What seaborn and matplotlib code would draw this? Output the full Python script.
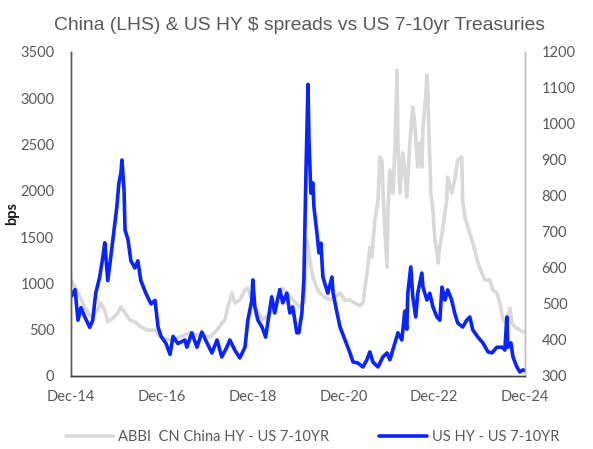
import matplotlib
matplotlib.use("Agg")
import matplotlib.pyplot as plt
import matplotlib.dates as mdates
import pandas as pd
import seaborn as sns

# China HY spread over US 7-10yr Treasuries (left axis, bps)
china_dates = [
    "2014-12-01", "2015-01-03", "2015-02-11", "2015-03-21", "2015-05-09", "2015-07-04",
    "2015-07-28", "2015-08-30", "2015-09-23", "2015-11-03", "2015-12-13", "2016-01-07",
    "2016-02-09", "2016-03-19", "2016-04-28", "2016-06-15", "2016-08-11", "2016-10-07",
    "2016-11-17", "2016-12-26", "2017-02-13", "2017-04-25", "2017-07-14", "2017-10-04",
    "2017-12-23", "2018-02-18", "2018-03-28", "2018-04-22", "2018-05-16", "2018-06-18",
    "2018-07-11", "2018-08-20", "2018-10-01", "2018-10-24", "2018-11-25", "2019-01-05",
    "2019-02-23", "2019-04-18", "2019-06-14", "2019-07-24", "2019-09-03", "2019-10-20",
    "2019-12-16", "2020-01-18", "2020-02-04", "2020-02-12", "2020-03-06", "2020-03-30",
    "2020-05-02", "2020-05-26", "2020-07-05", "2020-08-14", "2020-09-24", "2020-11-04",
    "2020-12-14", "2021-01-23", "2021-03-03", "2021-04-12", "2021-05-07", "2021-06-08",
    "2021-07-02", "2021-07-18", "2021-08-11", "2021-09-05", "2021-09-21", "2021-10-07",
    "2021-10-15", "2021-11-01", "2021-11-17", "2021-11-25", "2021-12-10", "2022-01-04",
    "2022-01-20", "2022-02-05", "2022-02-13", "2022-03-01", "2022-03-24", "2022-04-09",
    "2022-04-25", "2022-05-19", "2022-06-12", "2022-06-28", "2022-07-22", "2022-08-08",
    "2022-08-24", "2022-09-02", "2022-09-26", "2022-10-04", "2022-10-12", "2022-10-20",
    "2022-11-05", "2022-11-21", "2022-12-07", "2022-12-23", "2023-01-01", "2023-01-16",
    "2023-02-10", "2023-03-12", "2023-03-20", "2023-04-21", "2023-05-15", "2023-06-09",
    "2023-07-11", "2023-07-19", "2023-08-05", "2023-08-29", "2023-10-01", "2023-10-24",
    "2023-11-18", "2023-12-20", "2024-01-13", "2024-02-23", "2024-03-17", "2024-04-19",
    "2024-05-13", "2024-06-07", "2024-07-08", "2024-08-02", "2024-08-18", "2024-09-11",
    "2024-10-21", "2024-11-15", "2024-12-01",
]
china_spread = [
    1037, 960, 855, 745, 640, 710,
    790, 710, 585, 625, 680, 745,
    680, 605, 585, 530, 495, 495,
    420, 400, 390, 420, 464, 440,
    420, 497, 572, 605, 745, 896,
    788, 821, 929, 950, 821, 713,
    605, 680, 821, 950, 896, 821,
    745, 800, 1200, 1470, 1250, 1070,
    950, 896, 850, 821, 850, 896,
    821, 821, 788, 760, 790, 1100,
    1390, 1285, 1685, 1900, 2365, 2330,
    2009, 1544, 1177, 1793, 2225, 1976,
    2473, 3305, 2516, 1976, 2408, 2225,
    1933, 2516, 2905, 2732, 2257, 2516,
    2257, 2689, 3056, 3251, 3056, 2624,
    1976, 1793, 1469, 1361, 1220, 1393,
    1609, 1901, 2149, 1976, 2117, 2333,
    2365, 1901, 1717, 1609, 1469, 1361,
    1220, 1112, 1037, 1037, 929, 896,
    788, 605, 572, 734, 572, 529,
    497, 475, 480,
]

# US HY spread over US 7-10yr Treasuries (right axis, bps)
us_dates = [
    "2014-12-01", "2015-01-03", "2015-01-26", "2015-02-19", "2015-03-21", "2015-05-01",
    "2015-05-25", "2015-06-18", "2015-07-20", "2015-08-14", "2015-08-30", "2015-09-23",
    "2015-10-17", "2015-11-19", "2015-12-05", "2015-12-21", "2016-01-07", "2016-01-15",
    "2016-02-01", "2016-02-09", "2016-03-03", "2016-03-27", "2016-04-28", "2016-05-22",
    "2016-06-15", "2016-07-25", "2016-09-05", "2016-10-07", "2016-11-01", "2016-11-25",
    "2017-01-04", "2017-02-05", "2017-03-01", "2017-04-09", "2017-06-05", "2017-06-20",
    "2017-07-30", "2017-09-10", "2017-10-19", "2017-11-29", "2018-01-08", "2018-02-18",
    "2018-03-28", "2018-05-08", "2018-06-01", "2018-07-11", "2018-08-20", "2018-10-01",
    "2018-10-24", "2018-11-25", "2018-12-03", "2018-12-19", "2019-01-13", "2019-02-15",
    "2019-03-16", "2019-04-02", "2019-05-04", "2019-05-28", "2019-07-08", "2019-08-01",
    "2019-09-03", "2019-09-27", "2019-10-20", "2019-11-22", "2019-12-08", "2020-01-02",
    "2020-01-18", "2020-02-04", "2020-02-20", "2020-02-28", "2020-03-14", "2020-03-30",
    "2020-04-08", "2020-05-02", "2020-05-18", "2020-06-03", "2020-06-19", "2020-07-13",
    "2020-07-29", "2020-08-31", "2020-09-09", "2020-10-11", "2020-11-04", "2020-12-14",
    "2021-01-23", "2021-02-16", "2021-03-27", "2021-05-07", "2021-06-08", "2021-07-02",
    "2021-07-26", "2021-09-05", "2021-10-15", "2021-11-17", "2021-12-10", "2022-01-20",
    "2022-02-13", "2022-03-16", "2022-04-09", "2022-04-25", "2022-05-03", "2022-05-27",
    "2022-06-12", "2022-07-06", "2022-07-22", "2022-08-24", "2022-09-02", "2022-10-04",
    "2022-10-27", "2022-11-21", "2022-12-23", "2023-01-16", "2023-02-02", "2023-02-26",
    "2023-03-20", "2023-04-21", "2023-05-15", "2023-06-09", "2023-07-19", "2023-08-20",
    "2023-09-14", "2023-10-08", "2023-11-18", "2023-12-28", "2024-02-07", "2024-03-10",
    "2024-04-19", "2024-05-29", "2024-06-22", "2024-07-08", "2024-07-16", "2024-08-10",
    "2024-08-26", "2024-09-27", "2024-10-21", "2024-11-15", "2024-12-01",
]
us_spread = [
    520, 540, 455, 490, 465, 435,
    455, 530, 575, 630, 670, 565,
    630, 725, 770, 835, 865, 900,
    815, 705, 680, 620, 600, 620,
    565, 530, 500, 510, 435, 410,
    390, 360, 410, 390, 400, 380,
    420, 380, 422, 392, 364, 400,
    353, 380, 400, 372, 350, 380,
    455, 510, 567, 492, 455, 436,
    408, 447, 520, 475, 540, 503,
    530, 475, 492, 420, 420, 475,
    567, 872, 1110, 955, 808, 836,
    769, 697, 642, 669, 575, 547,
    530, 575, 530, 475, 436, 400,
    364, 339, 336, 325, 345, 367,
    339, 325, 353, 364, 345, 392,
    420, 400, 480, 430, 530, 603,
    520, 464, 530, 586, 547, 511,
    530, 492, 464, 455, 547, 511,
    539, 511, 475, 447, 436, 455,
    464, 428, 408, 392, 367, 364,
    380, 380, 372, 464, 380, 392,
    353, 325, 311, 317, 315,
]

title = "China (LHS) & US HY $ spreads vs US 7-10yr Treasuries"
china_label = "ABBI  CN China HY - US 7-10YR"
us_label = "US HY - US 7-10YR"
tick_dates = ["2014-12-01", "2016-12-01", "2018-12-01", "2020-12-01", "2022-12-01", "2024-12-01"]

china = pd.DataFrame({"date": pd.to_datetime(china_dates), "spread": china_spread})
us = pd.DataFrame({"date": pd.to_datetime(us_dates), "spread": us_spread})

sns.set_theme(style="white")
text_col = "#595959"
tick_font = ["Lato", "DejaVu Sans"]

fig = plt.figure(figsize=(5.93, 4.49), dpi=100)
ax = fig.add_axes([0.1197, 0.1626, 0.7656, 0.7216])
ax2 = ax.twinx()

sns.lineplot(data=china, x="date", y="spread", ax=ax, color="#D9D9D9",
             linewidth=2.6, estimator=None, label=china_label, legend=False)
sns.lineplot(data=us, x="date", y="spread", ax=ax2, color="#0A24FF",
             linewidth=2.6, estimator=None, label=us_label, legend=False)

ax.set_xlim(pd.Timestamp(tick_dates[0]), pd.Timestamp(tick_dates[-1]))
ax.set_ylim(0, 3500)
ax2.set_ylim(300, 1200)
ax.set_yticks(range(0, 3501, 500))
ax2.set_yticks(range(300, 1201, 100))
ax.set_xticks(pd.to_datetime(tick_dates))
ax.xaxis.set_major_formatter(mdates.DateFormatter("%b-%y"))

ax.set_xlabel("")
ax.set_ylabel("bps", fontsize=10.5, fontweight="bold", color="#1A1A1A",
              family=tick_font)
ax.yaxis.set_label_coords(-0.115, 0.50)
ax2.set_ylabel("")

for a in (ax, ax2):
    a.tick_params(length=0, labelsize=10.5, labelcolor=text_col)
    for lbl in a.get_xticklabels() + a.get_yticklabels():
        lbl.set_family(tick_font)
    a.spines["top"].set_visible(False)
    a.spines["left"].set_color("#595959")
    a.spines["bottom"].set_color("#404040")
    a.spines["right"].set_color("#BFBFBF")
    for side in ("left", "right", "bottom"):
        a.spines[side].set_linewidth(1.0)
ax.tick_params(axis="y", pad=12)
ax.tick_params(axis="x", pad=10)
ax2.tick_params(axis="y", pad=12)

fig.text(0.505, 0.944, title, ha="center", va="center", fontsize=13.9,
         color=text_col, family=["Liberation Sans", "DejaVu Sans"])

handles = ax.get_lines()[:1] + ax2.get_lines()[:1]
fig.legend(handles, [china_label, us_label], loc="center", bbox_to_anchor=(0.527, 0.026),
           ncol=2, frameon=False, handlelength=3.3, handletextpad=0.3,
           columnspacing=3.4, prop={"family": tick_font, "size": 10.5},
           labelcolor=text_col)

fig.savefig("out.png", dpi=100)
